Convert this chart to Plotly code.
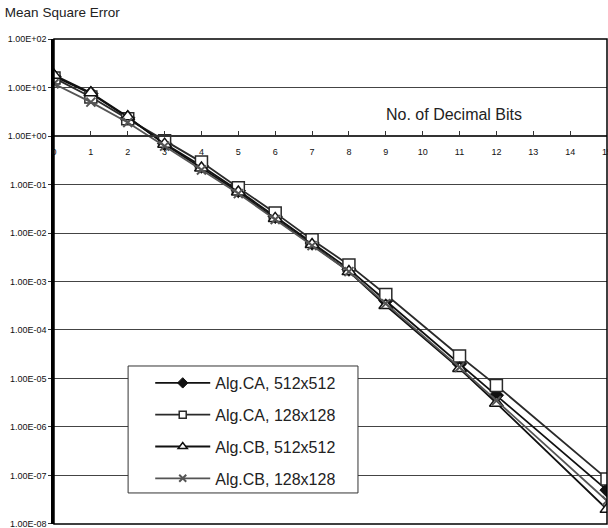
import plotly.graph_objects as go

bits = [0, 1, 2, 3, 4, 5, 6, 7, 8, 9, 11, 12, 15]
ca_512 = [17, 7.5, 2.4, 0.7, 0.24, 0.075, 0.022, 0.0062, 0.0018, 4.0e-4, 2.0e-5, 4.5e-6, 5.0e-8]
ca_128 = [15.8, 6.4, 2.26, 0.80, 0.29, 0.086, 0.026, 0.0073, 0.0022, 5.4e-4, 2.9e-5, 7.2e-6, 8.5e-8]
cb_512 = [18, 7.8, 2.5, 0.68, 0.22, 0.07, 0.020, 0.0058, 0.0016, 3.2e-4, 1.6e-5, 3.1e-6, 2.0e-8]
cb_128 = [12, 5.0, 1.9, 0.62, 0.20, 0.065, 0.019, 0.0055, 0.0016, 3.5e-4, 1.7e-5, 3.5e-6, 3.0e-8]

series_names = ["Alg.CA, 512x512", "Alg.CA, 128x128", "Alg.CB, 512x512", "Alg.CB, 128x128"]
x_ticks = list(range(0, 16))
y_tickvals = [10.0 ** k for k in range(2, -9, -1)]
y_ticktext = ["1.00E+02", "1.00E+01", "1.00E+00", "1.00E-01", "1.00E-02", "1.00E-03",
              "1.00E-04", "1.00E-05", "1.00E-06", "1.00E-07", "1.00E-08"]

FONT = "Arial, Liberation Sans, sans-serif"

styles = [
    dict(color="#111", symbol="diamond", fill="#111", msize=11, lsize=8, lw=1),
    dict(color="#2a2a2a", symbol="square", fill="white", msize=12, lsize=7, lw=1.5),
    dict(color="#111", symbol="triangle-up", fill="white", msize=12, lsize=8, lw=1.5),
    dict(color="#555", symbol="x-thin", fill="#555", msize=9, lsize=7, lw=2),
]

fig = go.Figure()
for i, (name, ys) in enumerate(zip(series_names, [ca_512, ca_128, cb_512, cb_128])):
    s = styles[i]
    fig.add_trace(go.Scatter(
        x=bits, y=ys, name=name, mode="lines+markers", showlegend=False,
        legendgroup=f"g{i}",
        line=dict(color=s["color"], width=1.8),
        marker=dict(symbol=s["symbol"], size=s["msize"], color=s["fill"],
                    line=dict(color=s["color"], width=s["lw"]))))
for i, name in enumerate(series_names):
    s = styles[i]
    # legend entry with the smaller legend marker
    fig.add_trace(go.Scatter(
        x=[None], y=[None], name=name, mode="lines+markers", showlegend=True,
        legendgroup=f"g{i}",
        line=dict(color=s["color"], width=1.8),
        marker=dict(symbol=s["symbol"], size=s["lsize"], color=s["fill"],
                    line=dict(color=s["color"], width=s["lw"]))))

fig.add_annotation(x=10.85, y=0.436, xref="x", yref="y", text="No. of Decimal Bits",
                   showarrow=False, font=dict(size=16, color="#222", family=FONT))

# plot frame
fig.add_shape(type="rect", xref="paper", yref="paper", x0=0, y0=0, x1=1, y1=1,
              line=dict(color="black", width=1.5), layer="above")
# legend box
fig.add_shape(type="rect", xref="paper", yref="paper", x0=0.134, y0=0.064, x1=0.5497, y1=0.3258,
              line=dict(color="#333", width=1), fillcolor="white", layer="above")

fig.update_layout(
    width=608, height=528,
    margin=dict(l=54, r=1, t=39, b=4, autoexpand=False),
    paper_bgcolor="white", plot_bgcolor="white",
    font=dict(family=FONT, color="#222"),
    title=dict(text="Mean Square Error", x=0.008, xanchor="left", y=0.977, yanchor="middle",
               font=dict(size=13.5, color="#222")),
    xaxis=dict(range=[0, 15], tickvals=x_ticks, ticktext=[str(v) for v in x_ticks],
               anchor="free", position=0.8, showgrid=False, zeroline=False,
               showline=True, linecolor="#333", linewidth=1.5, automargin=False,
               ticks="inside", ticklen=4, tickcolor="#333", ticklabelstandoff=7,
               ticklabeloverflow="allow",
               tickfont=dict(size=9, color="#111")),
    yaxis=dict(type="log", range=[-8.001, 2.001], tickvals=y_tickvals, ticktext=y_ticktext,
               showgrid=True, gridcolor="#444", gridwidth=1, automargin=False,
               showline=True, linecolor="black", linewidth=2.5,
               ticks="outside", ticklen=3, tickcolor="#333",
               ticklabeloverflow="allow",
               tickfont=dict(size=9, color="#111")),
    legend=dict(x=0.174, y=0.3258, xanchor="left", yanchor="top",
                bgcolor="rgba(0,0,0,0)", borderwidth=0, itemwidth=55,
                font=dict(size=16, color="#222"), tracegroupgap=8,
                traceorder="grouped"),
)

fig.write_html("out.html", config={"displayModeBar": False},
               post_script="document.body.style.margin='0';")
